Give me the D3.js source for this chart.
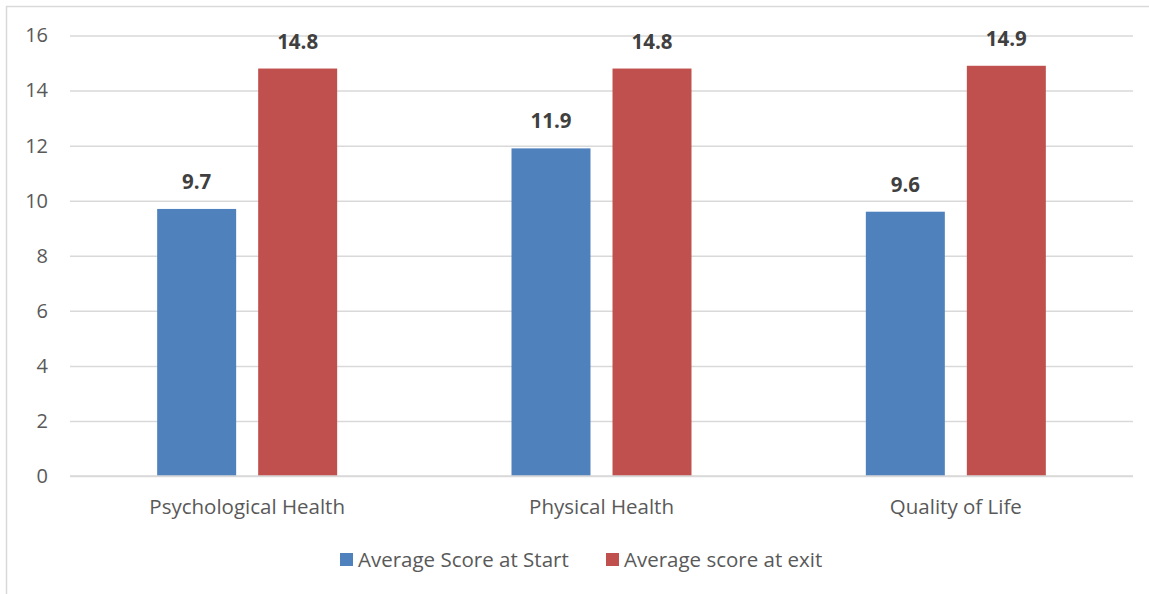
<!DOCTYPE html>
<html>
<head>
<meta charset="utf-8">
<script src="https://cdn.jsdelivr.net/npm/d3@7"></script>
<style>
html,body{margin:0;padding:0;background:#fff;}
svg{display:block;font-family:"Open Sans",Lato,sans-serif;}
</style>
</head>
<body>
<svg id="chart" width="1149" height="594"></svg>
<script>
const categories = ["Psychological Health", "Physical Health", "Quality of Life"];
const seriesNames = ["Average Score at Start", "Average score at exit"];
const startScores = [9.7, 11.9, 9.6];
const exitScores = [14.8, 14.8, 14.9];
const yTicks = [0, 2, 4, 6, 8, 10, 12, 14, 16];
const colors = ["#4F81BD", "#C0504D"];

const svg = d3.select("#chart");
const W = 1149, H = 594;
const m = {left: 70, right: 16, top: 35.5, bottom: 118};
const plotR = W - m.right, plotB = H - m.bottom;

// chart border
svg.append("rect").attr("x", 6.5).attr("y", 6.5).attr("width", W + 10).attr("height", H + 10)
  .attr("fill", "none").attr("stroke", "#d9d9d9").attr("stroke-width", 1.5);

const y = d3.scaleLinear().domain([0, 16]).range([plotB, m.top]);
const x0 = d3.scaleBand().domain(categories).range([m.left, plotR]).paddingInner(0).paddingOuter(0);
const x1 = d3.scaleBand().domain([0, 1]).range([-90, 90]).paddingInner(0.218).paddingOuter(0);

const fs = "20.5px";

// gridlines
const yAxis = d3.axisLeft(y).tickValues(yTicks).tickSize(-(plotR - m.left)).tickFormat(d3.format("d")).tickPadding(22);
const ga = svg.append("g").attr("transform", `translate(${m.left},0)`).call(yAxis);
ga.select(".domain").remove();
ga.selectAll(".tick line").attr("stroke", "#d9d9d9").attr("stroke-width", 1.5);
ga.selectAll(".tick text").attr("fill", "#595959").style("font-size", "20px").style("font-family", "Open Sans");

const data = categories.map((c, i) => ({cat: c, vals: [startScores[i], exitScores[i]]}));

const groups = svg.selectAll("g.cat").data(data).enter().append("g")
  .attr("class", "cat")
  .attr("transform", d => `translate(${x0(d.cat) + x0.bandwidth() / 2},0)`);

groups.selectAll("rect").data(d => d.vals.map((v, j) => ({v, j}))).enter().append("rect")
  .attr("x", d => x1(d.j))
  .attr("width", x1.bandwidth())
  .attr("y", d => y(d.v))
  .attr("height", d => y(0) - y(d.v))
  .attr("fill", d => colors[d.j]);

groups.selectAll("text.val").data(d => d.vals.map((v, j) => ({v, j}))).enter().append("text")
  .attr("class", "val")
  .attr("x", d => x1(d.j) + x1.bandwidth() / 2)
  .attr("y", d => y(d.v) - 20)
  .attr("text-anchor", "middle")
  .attr("fill", "#404040")
  .style("font-size", "20.5px")
  .style("font-weight", "bold")
  .text(d => d3.format(".1f")(d.v));

// redraw baseline on top
svg.append("line").attr("x1", m.left).attr("x2", plotR).attr("y1", y(0)).attr("y2", y(0))
  .attr("stroke", "#d9d9d9").attr("stroke-width", 1.5);

// category labels
svg.selectAll("text.cat").data(categories).enter().append("text")
  .attr("x", d => x0(d) + x0.bandwidth() / 2)
  .attr("y", 514)
  .attr("text-anchor", "middle")
  .attr("fill", "#595959")
  .style("font-size", fs)
  .text(d => d);

// legend
const legendX = [340, 606];
const lg = svg.selectAll("g.leg").data(seriesNames).enter().append("g")
  .attr("transform", (d, i) => `translate(${legendX[i]},553)`);
lg.append("rect").attr("width", 13).attr("height", 13).attr("fill", (d, i) => colors[i]);
lg.append("text").attr("x", 18).attr("y", 14).attr("fill", "#595959")
  .style("font-size", fs).text(d => d);
</script>
</body>
</html>
